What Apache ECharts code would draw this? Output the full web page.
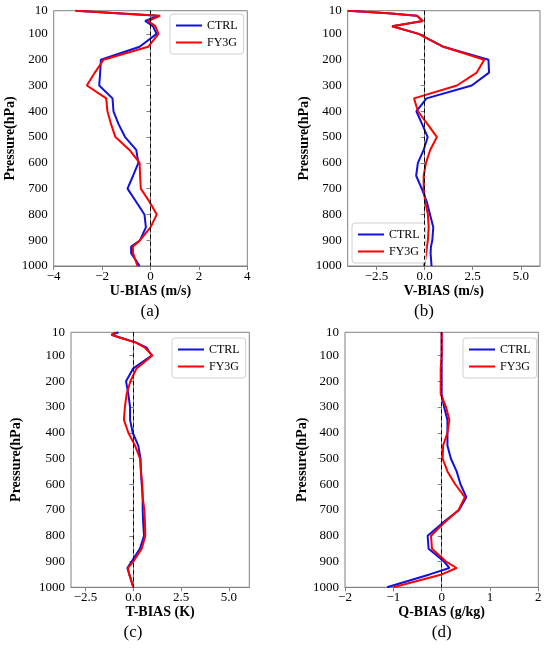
<!DOCTYPE html>
<html>
<head>
<meta charset="utf-8">
<script src="https://cdn.jsdelivr.net/npm/echarts@6/dist/echarts.min.js"></script>
<style>
html, body { margin: 0; padding: 0; background: #fff; }
#main { width: 550px; height: 651px; }
</style>
</head>
<body>
<div id="main"></div>
<script>
// pressure levels (hPa)
var levels = [10, 20, 30, 50, 70, 100, 150, 200, 250, 300, 350, 400, 450, 500, 550, 600, 650, 700, 750, 800, 850, 900, 925, 950, 1000];
var pressureTicks = [10, 100, 200, 300, 400, 500, 600, 700, 800, 900, 1000];

// (a) U bias
var uCtrl = [-3.1, -1.4, 0.3, -0.22, 0.1, 0.25, -0.45, -2.05, -2.08, -2.12, -1.57, -1.53, -1.32, -1.05, -0.59, -0.5, -0.72, -0.95, -0.6, -0.25, -0.19, -0.43, -0.8, -0.8, -0.45];
var uFy3g = [-3.1, -1.35, 0.4, -0.1, 0.2, 0.33, -0.1, -1.94, -2.3, -2.63, -1.83, -1.78, -1.63, -1.45, -0.87, -0.45, -0.43, -0.4, -0.05, 0.26, 0.0, -0.43, -0.73, -0.72, -0.54];
var uTicks = [-4, -2, 0, 2, 4];

// (b) V bias
var vCtrl = [-4, -1.9, -0.4, -0.1, -1.69, -0.31, 0.98, 3.32, 3.35, 2.45, 0.1, -0.43, -0.13, 0.16, -0.05, -0.35, -0.44, -0.15, 0.11, 0.28, 0.45, 0.4, 0.33, 0.31, 0.36];
var vFy3g = [-4, -1.9, -0.4, -0.08, -1.69, -0.31, 0.98, 3.1, 2.71, 1.68, -0.55, -0.35, 0.15, 0.64, 0.29, 0.07, -0.05, -0.05, 0.03, 0.17, 0.21, 0.17, 0.12, 0.09, -0.03];
var vTicks = [-2.5, 0, 2.5, 5];

// (c) T bias
var tCtrl = [-0.78, -1.13, -0.7, 0.15, 0.7, 0.96, 0.0, -0.38, -0.26, -0.17, -0.17, -0.03, 0.26, 0.38, 0.4, 0.44, 0.49, 0.49, 0.52, 0.56, 0.35, -0.09, -0.31, -0.21, 0.0];
var tFy3g = [-0.95, -1.15, -0.72, 0.14, 0.61, 1.0, 0.17, -0.15, -0.35, -0.44, -0.49, -0.26, 0.09, 0.35, 0.4, 0.47, 0.49, 0.58, 0.61, 0.63, 0.44, 0.0, -0.28, -0.21, 0.0];
var tTicks = [-2.5, 0, 2.5, 5];

// (d) Q bias
var qCtrl = [0, 0, 0, 0, 0, 0, 0, 0, 0, 0.05, 0.12, 0.12, 0.12, 0.19, 0.31, 0.39, 0.51, 0.36, 0.02, -0.29, -0.27, 0.05, 0.16, -0.25, -1.13];
var qFy3g = [0, 0, 0, 0, 0, 0, -0.02, -0.02, -0.02, 0.09, 0.16, 0.12, 0.03, 0.02, 0.12, 0.28, 0.48, 0.35, 0.05, -0.22, -0.2, 0.09, 0.31, 0.0, -1.0];
var qTicks = [-2, -1, 0, 1, 2];

var FONT = '"Liberation Serif", "Times New Roman", serif';
var FRAME = '#808080';
var BLUE = '#1010e0';
var RED = '#ff0000';

var panels = [
    {title: 'U-BIAS (m/s)', ctrl: uCtrl, fy3g: uFy3g, ticks: uTicks, min: -4, max: 4, digits: 0,
     box: [53.7, 10.7, 193.6, 255.3], yGap: 27, legend: [170, 14], tag: '(a)', tagAt: [150, 312]},
    {title: 'V-BIAS (m/s)', ctrl: vCtrl, fy3g: vFy3g, ticks: vTicks, min: -4, max: 6, digits: 1,
     box: [347.7, 10.7, 192.3, 255.3], yGap: 28, legend: [352, 223], tag: '(b)', tagAt: [424, 312]},
    {title: 'T-BIAS (K)', ctrl: tCtrl, fy3g: tFy3g, ticks: tTicks, min: -3.26, max: 6.07, digits: 1,
     box: [71, 332.3, 178.3, 255], yGap: 48, legend: [172, 338], tag: '(c)', tagAt: [133, 633]},
    {title: 'Q-BIAS (g/kg)', ctrl: qCtrl, fy3g: qFy3g, ticks: qTicks, min: -2, max: 2, digits: 0,
     box: [345, 332.3, 193.3, 255], yGap: 24, legend: [463, 338], tag: '(d)', tagAt: [441.7, 633]}
];

function pairs(vals) {
    return levels.map(function (p, k) { return [vals[k], p]; });
}

var grid = [], xAxis = [], yAxis = [], series = [], legend = [], graphic = [];

panels.forEach(function (pn, i) {
    grid.push({
        left: pn.box[0], top: pn.box[1], width: pn.box[2], height: pn.box[3],
        show: true, borderColor: FRAME, borderWidth: 1, backgroundColor: '#fff'
    });
    xAxis.push({
        type: 'value', gridIndex: i, min: pn.min, max: pn.max,
        name: pn.title, nameLocation: 'middle', nameGap: 16,
        nameTextStyle: {fontFamily: FONT, fontSize: 14, fontWeight: 'bold', color: '#000'},
        axisLine: {show: true, lineStyle: {color: FRAME, width: 1}},
        axisTick: {show: true, length: 4, customValues: pn.ticks, lineStyle: {color: FRAME}},
        axisLabel: {
            customValues: pn.ticks, margin: 4, fontFamily: FONT, fontSize: 13, color: '#000',
            formatter: function (v) { return v.toFixed(pn.digits).replace('-', '\u2212'); }
        },
        splitLine: {show: false}
    });
    yAxis.push({
        type: 'value', gridIndex: i, min: 10, max: 1000, inverse: true,
        name: 'Pressure(hPa)', nameLocation: 'middle', nameGap: pn.yGap,
        nameTextStyle: {fontFamily: FONT, fontSize: 14, fontWeight: 'bold', color: '#000'},
        axisLine: {show: true, lineStyle: {color: FRAME, width: 1}},
        axisTick: {show: true, length: 4, customValues: pressureTicks, lineStyle: {color: FRAME}},
        axisLabel: {
            customValues: pressureTicks, margin: 6, fontFamily: FONT, fontSize: 13, color: '#000',
            formatter: function (v) { return String(v); }
        },
        splitLine: {show: false}
    });
    series.push({
        name: 'CTRL', type: 'line', xAxisIndex: i, yAxisIndex: i,
        data: pairs(pn.ctrl), symbol: 'none', color: BLUE,
        lineStyle: {color: BLUE, width: 2},
        markLine: {
            silent: true, symbol: ['none', 'none'], label: {show: false},
            lineStyle: {color: '#000', type: [4, 3], width: 1},
            data: [{xAxis: 0}]
        }
    });
    series.push({
        name: 'FY3G', type: 'line', xAxisIndex: i, yAxisIndex: i,
        data: pairs(pn.fy3g), symbol: 'none', color: RED,
        lineStyle: {color: RED, width: 2}
    });
    legend.push({
        data: [{name: 'CTRL', icon: 'rect'}, {name: 'FY3G', icon: 'rect'}],
        orient: 'vertical',
        left: pn.legend[0], top: pn.legend[1],
        itemWidth: 26, itemHeight: 2, itemGap: 4, padding: [5, 6],
        backgroundColor: '#fff', borderColor: '#d0d0d0', borderWidth: 1, borderRadius: 3,
        textStyle: {fontFamily: FONT, fontSize: 12, color: '#000', lineHeight: 13}
    });
    graphic.push({
        type: 'text', x: pn.tagAt[0], y: pn.tagAt[1],
        style: {text: pn.tag, fontFamily: FONT, fontSize: 17, fill: '#000', textAlign: 'center', textVerticalAlign: 'middle'}
    });
});

var chart = echarts.init(document.getElementById('main'));
chart.setOption({
    animation: false,
    backgroundColor: '#fff',
    grid: grid,
    xAxis: xAxis,
    yAxis: yAxis,
    legend: legend,
    graphic: graphic,
    series: series
});
</script>
</body>
</html>
